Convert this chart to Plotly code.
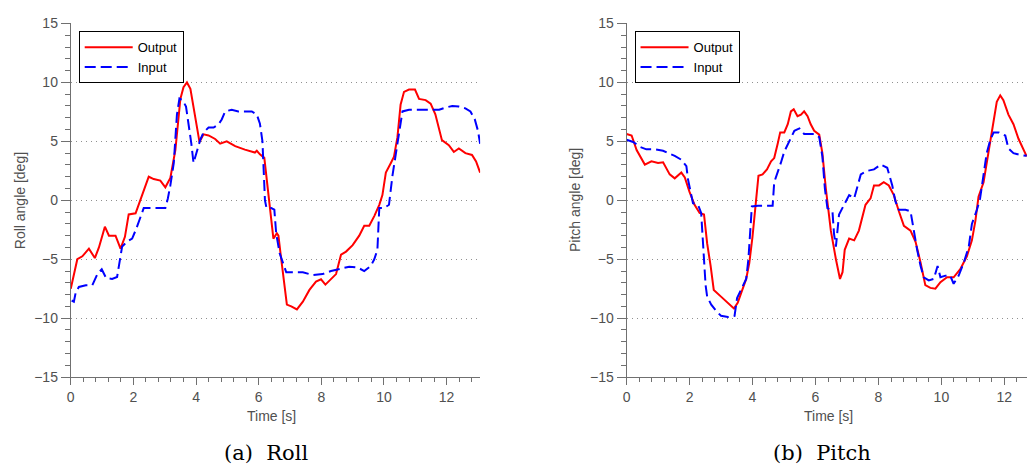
import plotly.graph_objects as go

# ---------------- data ----------------
roll_out_t = [0, 0.1, 0.21, 0.37, 0.58, 0.77, 0.9, 1.09, 1.22, 1.43, 1.59, 1.73, 1.85, 2.07, 2.23, 2.33,
              2.49, 2.65, 2.86, 3.02, 3.18, 3.34, 3.5, 3.6, 3.71, 3.82, 3.92, 4.03, 4.11, 4.24, 4.4, 4.61,
              4.77, 4.98, 5.25, 5.56, 5.72, 5.88, 5.94, 6.04, 6.18, 6.25, 6.33, 6.41, 6.47, 6.58, 6.63,
              6.72, 6.82, 6.9, 7.04, 7.22, 7.41, 7.62, 7.83, 7.99, 8.13, 8.31, 8.47, 8.63, 8.79, 9.0,
              9.21, 9.37, 9.53, 9.69, 9.85, 9.95, 10.06, 10.22, 10.32, 10.43, 10.53, 10.64, 10.8, 10.99,
              11.12, 11.33, 11.49, 11.64, 11.85, 12.07, 12.23, 12.39, 12.6, 12.81, 12.94, 13.07]
roll_out_v = [-7.5, -6.2, -5.0, -4.75, -4.1, -4.9, -4.0, -2.24, -3.0, -3.0, -4.1, -3.1, -1.2, -1.1, 0.15, 0.85,
              2.0, 1.8, 1.67, 1.1, 1.9, 4.26, 8.6, 9.6, 10.0, 9.45, 7.8, 5.9, 4.95, 5.6, 5.5, 5.2,
              4.8, 5.0, 4.6, 4.3, 4.2, 4.05, 4.2, 3.9, 3.6, 1.8, -0.1, -2.3, -3.25, -2.8, -3.0,
              -5.0, -7.2, -8.85, -9.0, -9.26, -8.6, -7.6, -6.9, -6.7, -7.15, -6.7, -6.26, -4.6, -4.35, -3.8,
              -3.0, -2.16, -2.16, -1.34, -0.38, 0.44, 2.35, 3.17, 3.7, 5.35, 8.1, 9.2, 9.4, 9.4,
              8.6, 8.5, 8.2, 7.3, 5.1, 4.67, 4.1, 4.4, 4.0, 3.85, 3.3, 2.35]

roll_in_t = [0.03, 0.1, 0.16, 0.26, 0.48, 0.69, 0.85, 0.99, 1.13, 1.32, 1.48, 1.56, 1.64, 1.8, 1.96, 2.09,
             2.23, 2.33, 2.6, 3.02, 3.1, 3.18, 3.29, 3.39, 3.47, 3.57, 3.68, 3.76, 3.85, 3.92, 4.03, 4.13,
             4.24, 4.4, 4.56, 4.72, 4.82, 4.93, 5.14, 5.35, 5.56, 5.78, 5.94, 6.04, 6.12, 6.17, 6.2,
             6.25, 6.4, 6.5, 6.56, 6.67, 6.77, 6.88, 7.09, 7.41, 7.72, 8.04, 8.31, 8.57, 8.89, 9.16,
             9.37, 9.58, 9.69, 9.79, 9.85, 10.0, 10.16, 10.27, 10.38, 10.48, 10.59, 10.8, 11.12, 11.44,
             11.76, 11.97, 12.18, 12.39, 12.6, 12.76, 12.9, 13.0, 13.07]
roll_in_v = [-8.5, -8.6, -7.8, -7.35, -7.2, -7.2, -6.26, -5.85, -6.6, -6.67, -6.5, -5.0, -3.93, -3.5, -3.25, -2.43,
             -1.48, -0.66, -0.66, -0.66, 0.16, 1.26, 3.17, 7.27, 8.63, 8.5, 7.95, 6.6, 4.8, 3.17, 4.26, 5.1,
             5.76, 6.17, 6.17, 6.45, 6.86, 7.54, 7.68, 7.54, 7.54, 7.54, 7.27, 6.5, 5.0, 2.5, 0.0,
             -0.66, -0.66, -0.8, -2.84, -4.5, -5.3, -6.1, -6.1, -6.1, -6.34, -6.26, -6.0, -5.85, -5.63, -5.7,
             -6.0, -5.57, -5.0, -4.2, -0.66, -0.66, -0.38, 2.08, 4.0, 5.9, 7.54, 7.68, 7.68, 7.68,
             7.68, 7.87, 8.0, 7.95, 7.8, 7.54, 6.86, 5.9, 4.8]

pitch_out_t = [0, 0.16, 0.32, 0.58, 0.79, 1.0, 1.16, 1.37, 1.53, 1.74, 1.85, 2.0, 2.16, 2.32, 2.46, 2.56,
               2.67, 2.77, 3.0, 3.22, 3.41, 3.53, 3.66, 3.8, 3.9, 4.0, 4.11, 4.19, 4.32, 4.46, 4.59, 4.69,
               4.8, 4.88, 5.01, 5.12, 5.22, 5.31, 5.43, 5.54, 5.64, 5.75, 5.85, 5.96, 6.12, 6.22, 6.33,
               6.43, 6.49, 6.65, 6.78, 6.86, 6.93, 7.07, 7.23, 7.38, 7.49, 7.59, 7.75, 7.86, 8.02, 8.17,
               8.33, 8.49, 8.65, 8.81, 9.02, 9.18, 9.34, 9.49, 9.65, 9.81, 9.97, 10.18, 10.39, 10.6, 10.81,
               10.97, 11.08, 11.18, 11.34, 11.44, 11.55, 11.66, 11.76, 11.87, 11.97, 12.13, 12.29, 12.45,
               12.6, 12.71]
pitch_out_v = [5.63, 5.5, 4.26, 3.03, 3.3, 3.17, 3.22, 2.2, 1.86, 2.35, 1.94, 0.71, -0.38, -1.07, -1.2, -3.66,
               -5.57, -7.6, -8.17, -8.7, -9.18, -8.7, -7.76, -6.67, -5.3, -3.1, -0.1, 2.08, 2.2, 2.62, 3.3, 3.58,
               4.8, 5.76, 5.76, 6.45, 7.54, 7.73, 7.13, 7.27, 7.54, 7.13, 6.45, 5.9, 5.57, 4.0, 1.0,
               -1.2, -2.6, -5.0, -6.67, -6.1, -4.2, -3.25, -3.4, -2.57, -1.48, -0.38, 0.16, 1.26, 1.26, 1.53,
               1.26, 0.44, -0.93, -2.16, -2.57, -3.52, -5.3, -7.2, -7.43, -7.5, -6.94, -6.53, -6.53, -5.85, -4.75,
               -3.4, -1.75, 0.3, 1.53, 3.17, 5.08, 7.0, 8.36, 8.9, 8.5, 7.27, 6.45, 5.22,
               4.26, 3.72]

pitch_in_t = [0, 0.21, 0.42, 0.63, 0.9, 1.16, 1.32, 1.53, 1.74, 1.9, 1.95, 2.04, 2.11, 2.27, 2.37, 2.41,
              2.46, 2.51, 2.56, 2.69, 2.85, 3.0, 3.22, 3.43, 3.51, 3.64, 3.8, 3.87, 3.93, 3.98, 4.17, 4.43,
              4.64, 4.69, 4.8, 4.9, 5.01, 5.17, 5.33, 5.49, 5.64, 5.8, 5.96, 6.12, 6.22, 6.3, 6.38,
              6.54, 6.59, 6.65, 6.7, 6.75, 6.91, 7.07, 7.23, 7.33, 7.44, 7.65, 7.86, 8.07, 8.28, 8.44,
              8.54, 8.65, 8.86, 9.02, 9.12, 9.23, 9.34, 9.44, 9.6, 9.76, 9.88, 9.97, 10.13, 10.28, 10.39,
              10.55, 10.71, 10.87, 10.97, 11.13, 11.23, 11.34, 11.44, 11.55, 11.66, 11.82, 12.03, 12.13,
              12.29, 12.5, 12.71]
pitch_in_v = [5.14, 4.95, 4.54, 4.32, 4.32, 4.2, 4.0, 3.77, 3.44, 2.9, 1.8, 0.71, -0.25, -0.38, -1.07, -2.84,
              -5.0, -7.2, -8.17, -8.85, -9.4, -9.8, -9.9, -9.8, -8.3, -7.5, -6.67, -5.0, -2.84, -0.52, -0.46, -0.46,
              -0.46, 1.53, 2.35, 3.17, 4.13, 5.08, 5.9, 6.1, 5.63, 5.63, 5.63, 5.36, 3.72, 0.98, -0.66,
              -0.93, -2.84, -3.93, -2.3, -1.2, -0.38, 0.44, 0.16, 1.12, 2.2, 2.5, 2.62, 3.03, 2.76, 1.26,
              -0.1, -0.8, -0.8, -0.93, -2.57, -4.2, -5.57, -6.53, -6.8, -6.67, -5.57, -6.53, -6.39, -6.39, -7.08,
              -6.39, -5.3, -3.93, -2.0, -0.8, 0.16, 2.08, 4.0, 5.08, 5.76, 5.76, 5.49, 4.4,
              4.0, 3.85, 3.77]

series_names = ["Output", "Input"]
x_tick_vals = [0, 2, 4, 6, 8, 10, 12]
y_tick_vals = [-15, -10, -5, 0, 5, 10, 15]

# ---------------- figure ----------------
W, H = 1027, 475
RED, BLUE = "#ff0000", "#0000ff"
DASH = "11px,5px"

fig = go.Figure()
fig.add_trace(go.Scatter(x=roll_out_t, y=roll_out_v, name=series_names[0], mode="lines",
                         line=dict(color=RED, width=2), xaxis="x", yaxis="y", legend="legend"))
fig.add_trace(go.Scatter(x=roll_in_t, y=roll_in_v, name=series_names[1], mode="lines",
                         line=dict(color=BLUE, width=2, dash=DASH), xaxis="x", yaxis="y", legend="legend"))
fig.add_trace(go.Scatter(x=pitch_out_t, y=pitch_out_v, name=series_names[0], mode="lines",
                         line=dict(color=RED, width=2), xaxis="x2", yaxis="y2", legend="legend2"))
fig.add_trace(go.Scatter(x=pitch_in_t, y=pitch_in_v, name=series_names[1], mode="lines",
                         line=dict(color=BLUE, width=2, dash=DASH), xaxis="x2", yaxis="y2", legend="legend2"))

AX = "#707070"
TXT = "#505050"
FONT = "Liberation Sans"

def xaxis(domain, rng, anchor):
    return dict(domain=domain, range=rng, anchor=anchor, tickvals=x_tick_vals,
                ticks="outside", ticklen=7, tickwidth=1, tickcolor=AX,
                minor=dict(dtick=0.4, tick0=0, ticks="outside", ticklen=4, tickcolor=AX, showgrid=False),
                showline=True, linecolor=AX, linewidth=1, showgrid=False, zeroline=False,
                tickfont=dict(family=FONT, size=14, color=TXT), fixedrange=True)

def yaxis(domain, anchor):
    return dict(domain=domain, range=[-15, 15], anchor=anchor, tickvals=y_tick_vals,
                ticks="outside", ticklen=9, tickwidth=1, tickcolor=AX,
                minor=dict(dtick=1, tick0=0, ticks="outside", ticklen=5, tickcolor=AX, showgrid=False),
                showline=True, linecolor=AX, linewidth=1, showgrid=True, gridcolor="#909090",
                griddash="1px,4px", gridwidth=1, zeroline=False,
                tickfont=dict(family=FONT, size=14, color=TXT), fixedrange=True)

ydom = [1 - 382 / H, 1 - 16 / H]
legend_style = dict(xanchor="left", yanchor="top", bordercolor="black", borderwidth=1,
                    bgcolor="white", font=dict(family=FONT, size=13, color="black"), itemwidth=48)
fig.update_layout(
    width=W, height=H,
    margin=dict(l=0, r=0, t=0, b=0),
    paper_bgcolor="white", plot_bgcolor="white",
    xaxis=xaxis([67 / W, 478 / W], [0, 13.07], "y"),
    yaxis=yaxis(ydom, "x"),
    xaxis2=xaxis([625 / W, 1.0], [0, 12.72], "y2"),
    yaxis2=yaxis(ydom, "x2"),
    legend=dict(x=75 / W, y=1 - 24 / H, **legend_style),
    legend2=dict(x=633 / W, y=1 - 24 / H, **legend_style),
    showlegend=True,
)

ann_font = dict(family=FONT, size=14, color=TXT)
cap_font = dict(family="DejaVu Serif", size=21, color="black")
anns = [
    dict(text="Time [s]", x=269 / W, y=1 - 422 / H, font=ann_font),
    dict(text="Time [s]", x=828 / W, y=1 - 422 / H, font=ann_font),
    dict(text="Roll angle [deg]", x=16 / W, y=1 - 199 / H, textangle=-90, font=ann_font),
    dict(text="Pitch angle [deg]", x=574 / W, y=1 - 199 / H, textangle=-90, font=ann_font),
    dict(text="(a)\u00a0 Roll", x=263 / W, y=1 - 460 / H, font=cap_font),
    dict(text="(b)\u00a0 Pitch", x=821 / W, y=1 - 460 / H, font=cap_font),
]
for a in anns:
    fig.add_annotation(xref="paper", yref="paper", showarrow=False,
                       xanchor="center", yanchor="middle", **a)

fig.write_html("out.html")
